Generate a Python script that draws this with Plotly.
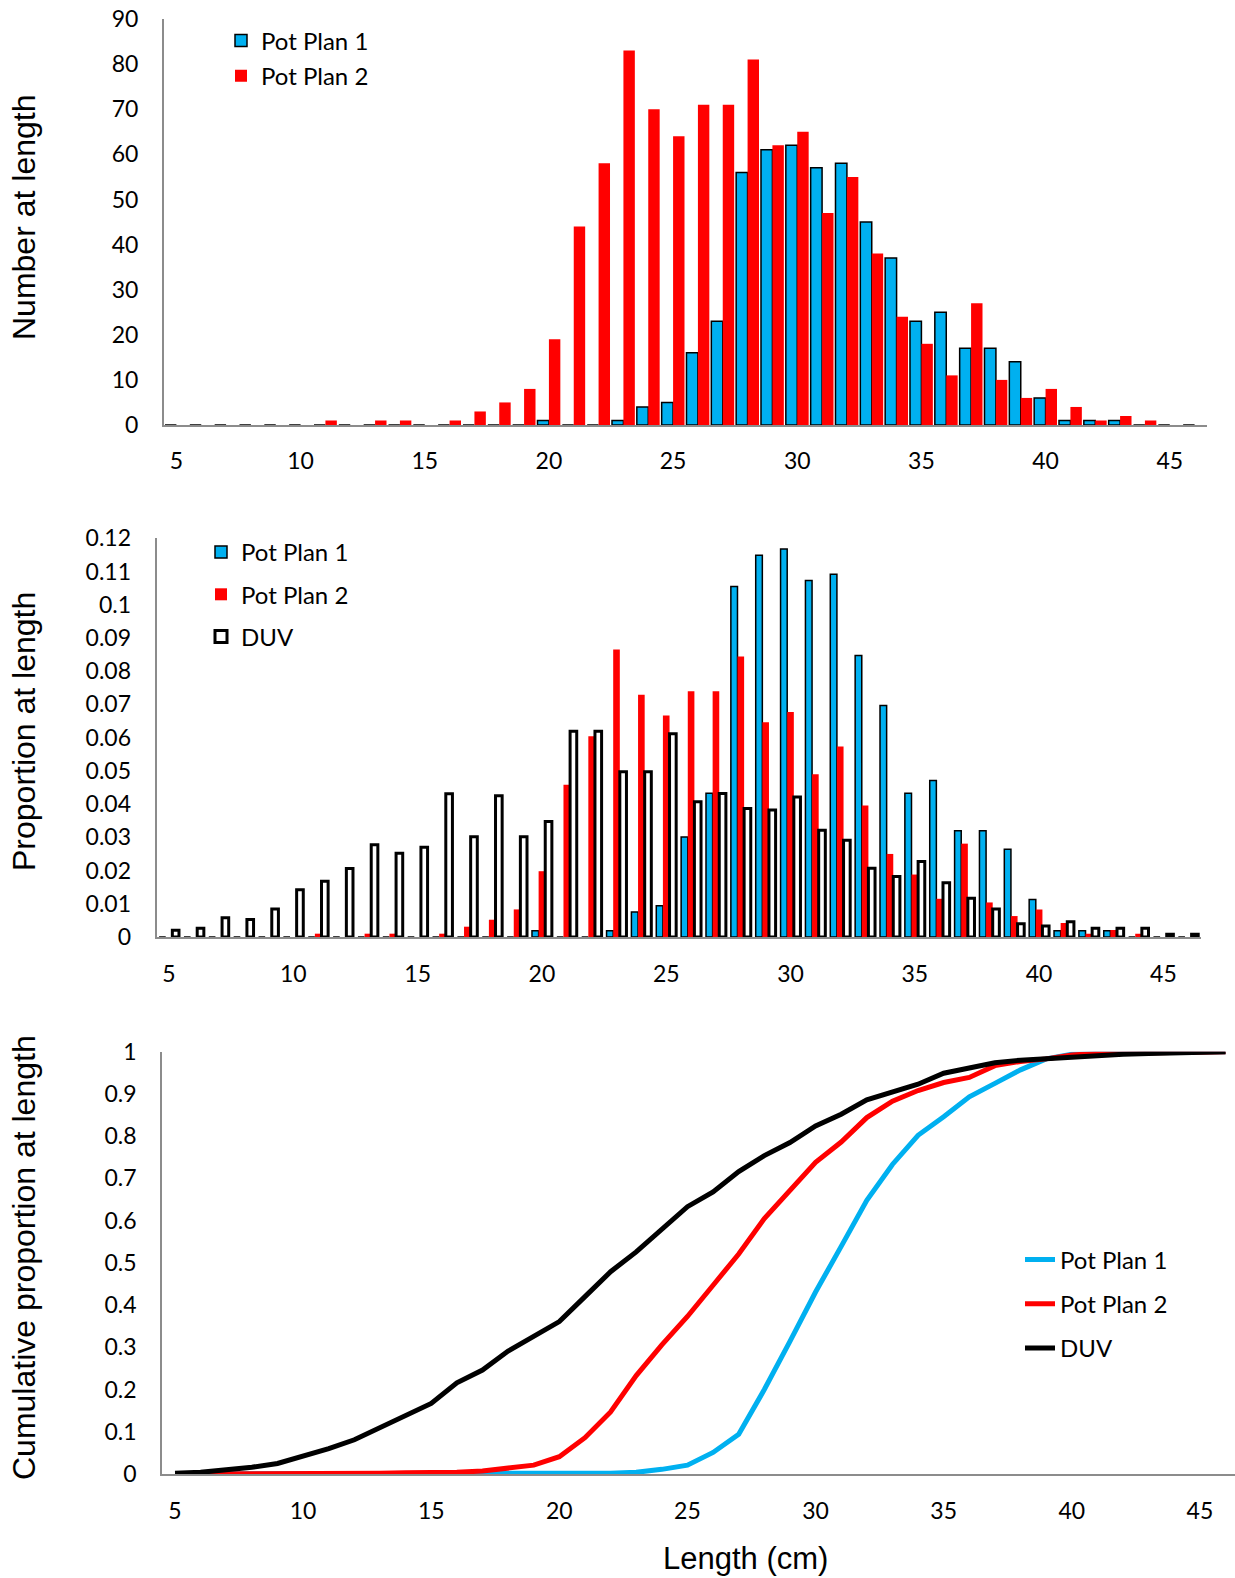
import plotly.graph_objects as go

# ---------------- data ----------------
lengths = list(range(5, 47))  # length classes (cm)

# Top panel: number at length
count_plan1 = [0, 0, 0, 0, 0, 0, 0, 0, 0, 0, 0, 0, 0, 0, 0,
               1, 0, 0, 1, 4, 5, 16, 23, 56, 61, 62, 57, 58, 45, 37,
               23, 25, 17, 17, 14, 6, 1, 1, 1, 0, 0, 0]
count_plan2 = [0, 0, 0, 0, 0, 0, 1, 0, 1, 1, 0, 1, 3, 5, 8,
               19, 44, 58, 83, 70, 64, 71, 71, 81, 62, 65, 47, 55, 38, 24,
               18, 11, 27, 10, 6, 8, 4, 1, 2, 1, 0, 0]

# Middle panel: proportion at length
prop_plan1 = [0, 0, 0, 0, 0, 0, 0, 0, 0, 0, 0, 0, 0, 0, 0,
              0.0019, 0, 0, 0.0019, 0.0075, 0.0094, 0.0301, 0.0433, 0.1055, 0.1149,
              0.1168, 0.1073, 0.1092, 0.0847, 0.0697, 0.0433, 0.0471, 0.0320, 0.0320,
              0.0264, 0.0113, 0.0019, 0.0019, 0.0019, 0, 0, 0]
prop_plan2 = [0, 0, 0, 0, 0, 0, 0.0010, 0, 0.0010, 0.0010, 0, 0.0010, 0.0031, 0.0052, 0.0083,
              0.0198, 0.0458, 0.0604, 0.0865, 0.0729, 0.0667, 0.0740, 0.0740, 0.0844, 0.0646,
              0.0677, 0.0490, 0.0573, 0.0396, 0.0250, 0.0188, 0.0115, 0.0281, 0.0104,
              0.0063, 0.0083, 0.0042, 0.0010, 0.0021, 0.0010, 0, 0]
prop_duv = [0.0020, 0.0026, 0.0058, 0.0053, 0.0084, 0.0142, 0.0168, 0.0206, 0.0278, 0.0252,
            0.0270, 0.0431, 0.0302, 0.0425, 0.0302, 0.0348, 0.0619, 0.0619, 0.0497, 0.0497,
            0.0612, 0.0407, 0.0432, 0.0387, 0.0382, 0.0421, 0.0321, 0.0291, 0.0207, 0.0182,
            0.0227, 0.0163, 0.0117, 0.0084, 0.0040, 0.0033, 0.0046, 0.0026, 0.0026, 0.0026,
            0.0008, 0.0008]

# Bottom panel: cumulative proportion at length
cum_plan1 = [0, 0, 0, 0, 0, 0, 0, 0, 0, 0, 0, 0, 0, 0, 0,
             0.002, 0.002, 0.002, 0.004, 0.011, 0.021, 0.051, 0.094, 0.200, 0.314,
             0.431, 0.539, 0.648, 0.733, 0.802, 0.846, 0.893, 0.925, 0.957, 0.983,
             0.994, 0.996, 0.998, 1.0, 1.0, 1.0, 1.0]
cum_plan2 = [0, 0, 0, 0, 0, 0, 0.001, 0.001, 0.002, 0.003, 0.003, 0.004, 0.007, 0.013, 0.021,
             0.041, 0.086, 0.147, 0.233, 0.306, 0.373, 0.447, 0.521, 0.605, 0.670,
             0.738, 0.786, 0.844, 0.883, 0.908, 0.927, 0.939, 0.967, 0.977, 0.983,
             0.992, 0.996, 0.997, 0.999, 1.0, 1.0, 1.0]
cum_duv = [0.002, 0.004, 0.010, 0.016, 0.025, 0.041, 0.060, 0.081, 0.110, 0.136,
           0.167, 0.216, 0.246, 0.291, 0.325, 0.361, 0.420, 0.479, 0.526, 0.578,
           0.633, 0.668, 0.716, 0.754, 0.785, 0.824, 0.852, 0.886, 0.905, 0.923,
           0.949, 0.963, 0.974, 0.980, 0.984, 0.988, 0.991, 0.994, 0.996, 0.998,
           0.999, 1.0]

x_tickvals = [5, 10, 15, 20, 25, 30, 35, 40, 45]
count_tickvals = [0, 10, 20, 30, 40, 50, 60, 70, 80, 90]
prop_tickvals = [0, 0.01, 0.02, 0.03, 0.04, 0.05, 0.06, 0.07, 0.08, 0.09, 0.10, 0.11, 0.12]
prop_ticktext = ["0", "0.01", "0.02", "0.03", "0.04", "0.05", "0.06", "0.07", "0.08",
                 "0.09", "0.1", "0.11", "0.12"]
cum_tickvals = [0, 0.1, 0.2, 0.3, 0.4, 0.5, 0.6, 0.7, 0.8, 0.9, 1.0]
cum_ticktext = ["0", "0.1", "0.2", "0.3", "0.4", "0.5", "0.6", "0.7", "0.8", "0.9", "1"]

# ---------------- styling ----------------
W, H = 1235, 1578
BLUE = "#00B0F0"
RED = "#FF0000"
AXIS_GRAY = "#8C8C8C"
TICK_FONT = dict(family="Lato, Carlito, Calibri, sans-serif", size=23, color="black")
LEG_FONT = dict(family="Lato, Carlito, Calibri, sans-serif", size=24, color="black")
TITLE_FONT = dict(family="Liberation Sans, Arial, sans-serif", size=32, color="black")
XTITLE_FONT = dict(family="Liberation Sans, Arial, sans-serif", size=31, color="black")


def fx(p):
    return p / W


def fy(p):
    return 1 - p / H


fig = go.Figure()

# top panel bars
fig.add_trace(go.Bar(x=lengths, y=count_plan1, name="Pot Plan 1", xaxis="x", yaxis="y",
                     width=0.46, offset=-0.46,
                     marker=dict(color=BLUE, line=dict(color="black", width=1.5)),
                     legend="legend", legendgroup="t1"))
fig.add_trace(go.Bar(x=lengths, y=count_plan2, name="Pot Plan 2", xaxis="x", yaxis="y",
                     width=0.46, offset=0.0,
                     marker=dict(color=RED, line=dict(width=0)),
                     legend="legend", legendgroup="t2"))

# middle panel bars
bw = 0.2667
fig.add_trace(go.Bar(x=lengths, y=prop_plan1, name="Pot Plan 1", xaxis="x2", yaxis="y2",
                     width=bw, offset=-0.4,
                     marker=dict(color=BLUE, line=dict(color="black", width=1.5)),
                     legend="legend2", legendgroup="m1"))
fig.add_trace(go.Bar(x=lengths, y=prop_plan2, name="Pot Plan 2", xaxis="x2", yaxis="y2",
                     width=bw, offset=-0.4 + bw,
                     marker=dict(color=RED, line=dict(width=0)),
                     legend="legend2", legendgroup="m2"))
fig.add_trace(go.Bar(x=lengths, y=prop_duv, name="DUV", xaxis="x2", yaxis="y2",
                     width=bw, offset=-0.4 + 2 * bw,
                     marker=dict(color="white", line=dict(color="black", width=3)),
                     legend="legend2", legendgroup="m3"))

# bottom panel lines
fig.add_trace(go.Scatter(x=lengths, y=cum_plan1, name="Pot Plan 1", mode="lines",
                         xaxis="x3", yaxis="y3", cliponaxis=False,
                         line=dict(color=BLUE, width=5),
                         legend="legend3", legendgroup="b1"))
fig.add_trace(go.Scatter(x=lengths, y=cum_plan2, name="Pot Plan 2", mode="lines",
                         xaxis="x3", yaxis="y3", cliponaxis=False,
                         line=dict(color=RED, width=5),
                         legend="legend3", legendgroup="b2"))
fig.add_trace(go.Scatter(x=lengths, y=cum_duv, name="DUV", mode="lines",
                         xaxis="x3", yaxis="y3", cliponaxis=False,
                         line=dict(color="black", width=5),
                         legend="legend3", legendgroup="b3"))

axis_common = dict(showline=True, linecolor=AXIS_GRAY, linewidth=2, showgrid=False,
                   zeroline=False, ticks="outside", tickcolor="rgba(0,0,0,0)",
                   tickfont=TICK_FONT, fixedrange=True, automargin=False)

legend_common = dict(font=LEG_FONT, bgcolor="rgba(0,0,0,0)", traceorder="grouped",
                     xanchor="left", yanchor="top", borderwidth=0)

fig.update_layout(
    width=W, height=H,
    margin=dict(l=0, r=0, t=0, b=0, pad=0, autoexpand=False),
    paper_bgcolor="white", plot_bgcolor="white",
    barmode="overlay",
    xaxis=dict(domain=[fx(164), fx(1207)], range=[4.5, 46.5], anchor="y",
               tickvals=x_tickvals, ticklen=14, **axis_common),
    yaxis=dict(domain=[fy(425), fy(19)], range=[0, 90], anchor="x",
               tickvals=count_tickvals, ticklen=19, **axis_common),
    xaxis2=dict(domain=[fx(156.6), fx(1200.7)], range=[4.5, 46.5], anchor="y2",
                tickvals=x_tickvals, ticklen=15, **axis_common),
    yaxis2=dict(domain=[fy(937), fy(538.3)], range=[0, 0.12], anchor="x2",
                tickvals=prop_tickvals, ticktext=prop_ticktext, ticklen=19, **axis_common),
    xaxis3=dict(domain=[fx(162.2), 1.0], range=[4.5, 46.37], anchor="y3",
                tickvals=x_tickvals, ticklen=15, **axis_common),
    yaxis3=dict(domain=[fy(1474), fy(1051.7)], range=[0, 1], anchor="x3",
                tickvals=cum_tickvals, ticktext=cum_ticktext, ticklen=19, **axis_common),
    legend=dict(x=fx(221), y=fy(18.5), tracegroupgap=1, **legend_common),
    legend2=dict(x=fx(201), y=fy(530), tracegroupgap=8, **legend_common),
    legend3=dict(x=fx(1020), y=fy(1237.5), tracegroupgap=10, **legend_common),
    annotations=[
        dict(text="Number at length", x=fx(24), y=fy(218), xref="paper", yref="paper",
             textangle=-90, showarrow=False, font=TITLE_FONT, xanchor="center", yanchor="middle"),
        dict(text="Proportion at length", x=fx(24), y=fy(732), xref="paper", yref="paper",
             textangle=-90, showarrow=False, font=TITLE_FONT, xanchor="center", yanchor="middle"),
        dict(text="Cumulative proportion at length", x=fx(24), y=fy(1258), xref="paper",
             yref="paper", textangle=-90, showarrow=False, font=TITLE_FONT,
             xanchor="center", yanchor="middle"),
        dict(text="Length (cm)", x=fx(745), y=fy(1558), xref="paper", yref="paper",
             showarrow=False, font=XTITLE_FONT, xanchor="center", yanchor="middle"),
    ],
)

fig.write_html("out.html", config={"displayModeBar": False},
               post_script="document.body.style.margin='0px';")
